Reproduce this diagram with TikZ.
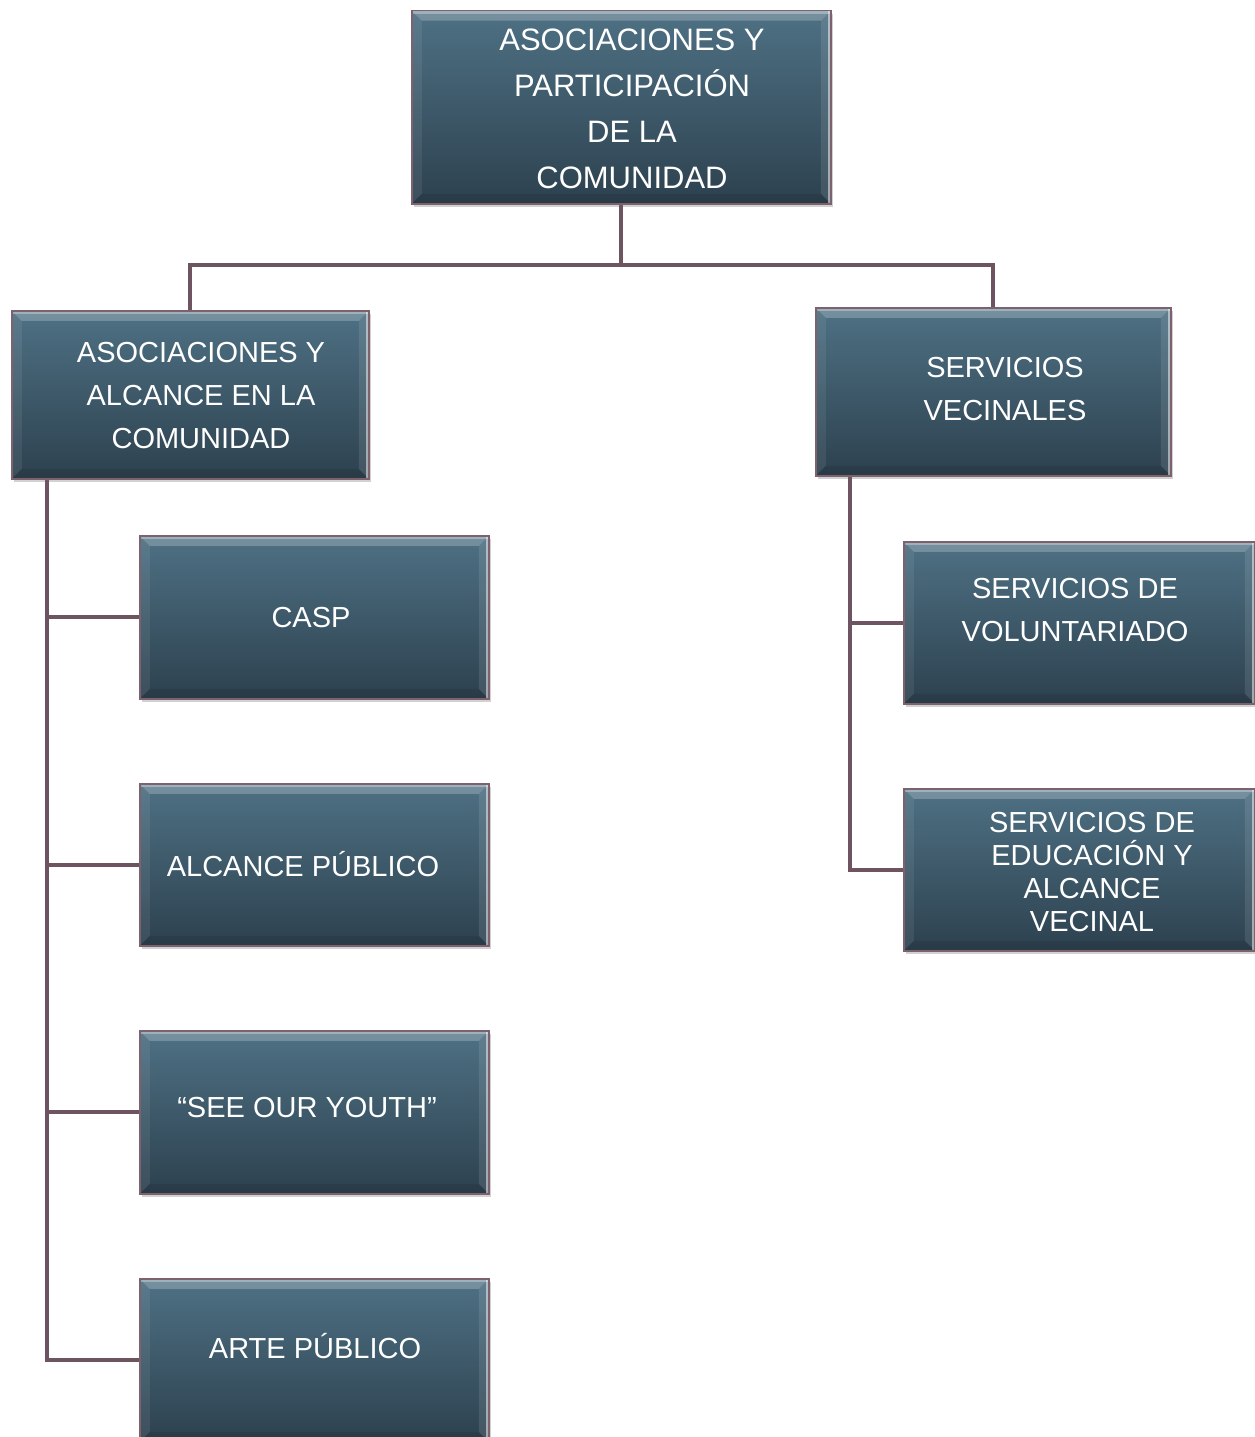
\documentclass[tikz,border=0pt]{standalone}
\usepackage{fontspec}
\setmainfont{Liberation Sans}
\usetikzlibrary{shadows,backgrounds}
\definecolor{tiletop}{RGB}{78,113,132}
\definecolor{tilebot}{RGB}{45,65,79}
\definecolor{tileedge}{RGB}{125,98,110}
\definecolor{wirecol}{RGB}{110,84,96}
\begin{document}
\begin{tikzpicture}[x=1pt,y=-1pt,
  tile/.style={rectangle, inner sep=0pt, anchor=north west, draw=tileedge,
    line width=1.5pt, top color=tiletop, bottom color=tilebot,
    drop shadow={shadow xshift=2pt, shadow yshift=-3pt, opacity=0.3, fill=black!60},
    path picture={
      % bevelled rim: light top, faint left, bright right edge, soft dark bottom
      \fill[white, opacity=0.22] (path picture bounding box.north west) -- (path picture bounding box.north east)
        -- ([xshift=-10pt,yshift=-10pt]path picture bounding box.north east)
        -- ([xshift=10pt,yshift=-10pt]path picture bounding box.north west) -- cycle;
      \fill[white, opacity=0.07] (path picture bounding box.north west) -- ([xshift=10pt,yshift=-10pt]path picture bounding box.north west)
        -- ([xshift=10pt,yshift=10pt]path picture bounding box.south west)
        -- (path picture bounding box.south west) -- cycle;
      \fill[white, opacity=0.10] (path picture bounding box.north east) -- ([xshift=-10pt,yshift=-10pt]path picture bounding box.north east)
        -- ([xshift=-10pt,yshift=10pt]path picture bounding box.south east)
        -- (path picture bounding box.south east) -- cycle;
      \fill[black, opacity=0.10] (path picture bounding box.south west) -- (path picture bounding box.south east)
        -- ([xshift=-10pt,yshift=10pt]path picture bounding box.south east)
        -- ([xshift=10pt,yshift=10pt]path picture bounding box.south west) -- cycle;
      \fill[white, opacity=0.5] ([xshift=-2.5pt]path picture bounding box.north east) rectangle (path picture bounding box.south east);
      \fill[white, opacity=0.3] ([yshift=-3pt]path picture bounding box.north west) rectangle (path picture bounding box.north east);
    }},
  lbl/.style={text=white, align=center, font=\fontsize{29}{43}\selectfont},
  wire/.style={draw=wirecol, line width=4pt}]
\useasboundingbox (0,0) rectangle (1254,1437);

% boxes (positions from their upper left corners)
\node[tile, minimum width=419pt, minimum height=193pt] (top)  at (411,10)   {};
\node[tile, minimum width=357pt, minimum height=168pt] (l1)   at (11,310)   {};
\node[tile, minimum width=355pt, minimum height=168pt] (r1)   at (815,307)  {};
\node[tile, minimum width=349pt, minimum height=163pt] (casp) at (139,535)  {};
\node[tile, minimum width=349pt, minimum height=162pt] (alc)  at (139,783)  {};
\node[tile, minimum width=349pt, minimum height=163pt] (see)  at (139,1030) {};
\node[tile, minimum width=349pt, minimum height=163pt] (arte) at (139,1278) {};
\node[tile, minimum width=351pt, minimum height=162pt] (vol)  at (903,541)  {};
\node[tile, minimum width=351pt, minimum height=162pt] (edu)  at (903,788)  {};

% labels
\node[lbl, font=\fontsize{31}{46}\selectfont] (ttop) at (632,109) {ASOCIACIONES Y\\PARTICIPACIÓN\\DE LA\\COMUNIDAD};
\node[lbl] (tl1)   at (201,396)  {ASOCIACIONES Y\\ALCANCE EN LA\\COMUNIDAD};
\node[lbl] (tr1)   at (1005,389) {SERVICIOS\\VECINALES};
\node[lbl] (tcasp) at (311,618)  {CASP};
\node[lbl] (talc)  at (303,864)  {ALCANCE PÚBLICO};
\node[lbl] (tsee)  at (307,1108) {“SEE OUR YOUTH”};
\node[lbl] (tarte) at (315,1346) {ARTE PÚBLICO};
\node[lbl] (tvol)  at (1075,610) {SERVICIOS DE\\VOLUNTARIADO};
\node[lbl, font=\fontsize{29}{33}\selectfont] (tedu) at (1092,872) {SERVICIOS DE\\EDUCACIÓN Y\\ALCANCE\\VECINAL};

% connectors, drawn behind the boxes
\coordinate (hub) at (620,265);
\coordinate (ltrunk) at (47,478);
\coordinate (rtrunk) at (850,475);
\begin{scope}[on background layer]
  \draw[wire] (top.south) -- (top.south |- hub) -| (l1.north);
  \draw[wire] (top.south |- hub) -| (r1.north);
  \draw[wire] (ltrunk) |- (arte.west);
  \draw[wire] (ltrunk |- casp.west) -- (casp.west);
  \draw[wire] (ltrunk |- alc.west) -- (alc.west);
  \draw[wire] (ltrunk |- see.west) -- (see.west);
  \draw[wire] (rtrunk) |- (edu.west);
  \draw[wire] (rtrunk |- vol.west) -- (vol.west);
\end{scope}
\end{tikzpicture}
\end{document}
